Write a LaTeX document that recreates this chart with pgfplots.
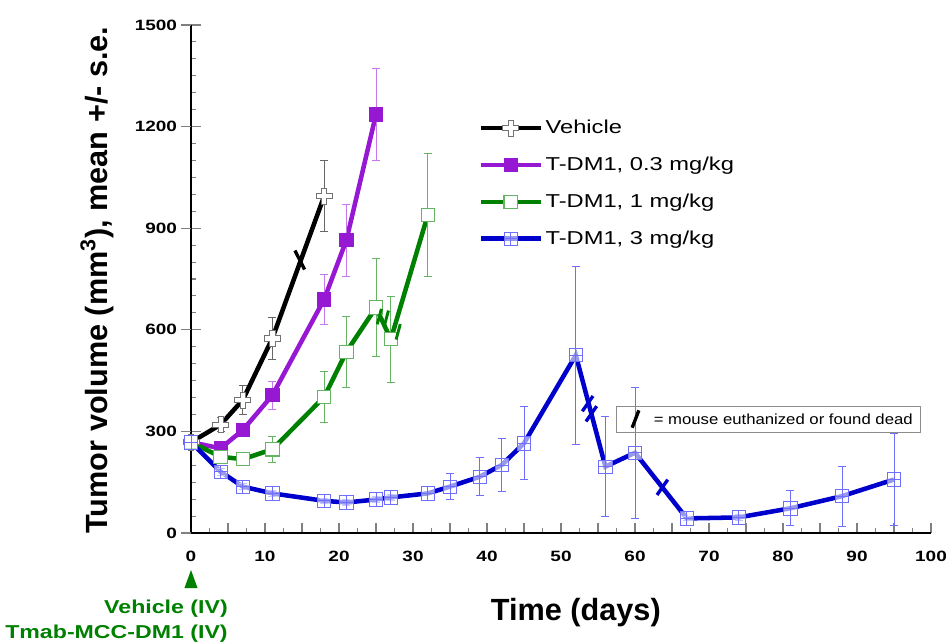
\documentclass[border=0pt]{standalone}
\usepackage{pgfplots}
\pgfplotsset{compat=1.18}
\usepackage{graphicx}
\usepackage{fontspec}
\setmainfont{Liberation Sans}
\definecolor{cpurple}{RGB}{150,24,210}
\definecolor{cpurplel}{RGB}{200,120,235}
\definecolor{cgreen}{RGB}{0,128,0}
\definecolor{cgreenl}{RGB}{100,180,100}
\definecolor{cblue}{RGB}{0,0,205}
\definecolor{cbluel}{RGB}{110,110,255}
\newcommand\sx[1]{\scalebox{1.27}[1]{#1}}
\pgfdeclareplotmark{opencross}{%
  \pgfpathmoveto{\pgfqpoint{-0.33\pgfplotmarksize}{\pgfplotmarksize}}%
  \pgfpathlineto{\pgfqpoint{0.33\pgfplotmarksize}{\pgfplotmarksize}}%
  \pgfpathlineto{\pgfqpoint{0.33\pgfplotmarksize}{0.33\pgfplotmarksize}}%
  \pgfpathlineto{\pgfqpoint{\pgfplotmarksize}{0.33\pgfplotmarksize}}%
  \pgfpathlineto{\pgfqpoint{\pgfplotmarksize}{-0.33\pgfplotmarksize}}%
  \pgfpathlineto{\pgfqpoint{0.33\pgfplotmarksize}{-0.33\pgfplotmarksize}}%
  \pgfpathlineto{\pgfqpoint{0.33\pgfplotmarksize}{-\pgfplotmarksize}}%
  \pgfpathlineto{\pgfqpoint{-0.33\pgfplotmarksize}{-\pgfplotmarksize}}%
  \pgfpathlineto{\pgfqpoint{-0.33\pgfplotmarksize}{-0.33\pgfplotmarksize}}%
  \pgfpathlineto{\pgfqpoint{-\pgfplotmarksize}{-0.33\pgfplotmarksize}}%
  \pgfpathlineto{\pgfqpoint{-\pgfplotmarksize}{0.33\pgfplotmarksize}}%
  \pgfpathlineto{\pgfqpoint{-0.33\pgfplotmarksize}{0.33\pgfplotmarksize}}%
  \pgfpathclose
  \pgfusepathqfillstroke
}
\pgfdeclareplotmark{boxplus}{%
  \pgfpathrectangle{\pgfqpoint{-\pgfplotmarksize}{-\pgfplotmarksize}}{\pgfqpoint{2\pgfplotmarksize}{2\pgfplotmarksize}}%
  \pgfusepathqfillstroke
  \pgfpathmoveto{\pgfqpoint{-\pgfplotmarksize}{0pt}}\pgfpathlineto{\pgfqpoint{\pgfplotmarksize}{0pt}}%
  \pgfpathmoveto{\pgfqpoint{0pt}{-\pgfplotmarksize}}\pgfpathlineto{\pgfqpoint{0pt}{\pgfplotmarksize}}%
  \pgfusepathqstroke
}
\begin{document}
\begin{tikzpicture}
\begin{axis}[
  scale only axis, width=555pt, height=381pt,
  xmin=0, xmax=100, ymin=0, ymax=1500,
  axis lines*=left,
  axis line style={line width=2pt},
  clip=false,
  xtick={0,5,...,100},
  xticklabels={\sx{0},,\sx{10},,\sx{20},,\sx{30},,\sx{40},,\sx{50},,\sx{60},,\sx{70},,\sx{80},,\sx{90},,\sx{100}},
  minor x tick num=1,
  ytick={0,300,...,1500},
  yticklabels={\sx{0},\sx{300},\sx{600},\sx{900},\sx{1200},\sx{1500}},
  minor y tick num=5,
  extra y ticks={0,300,...,1500},
  extra y tick labels={},
  extra y tick style={tick align=outside},
  tick align=inside,
  major tick length=7.5pt, minor tick length=4pt,
  tick style={black!50, line width=0.8pt},
  tick label style={font=\fontsize{11.2}{13}\selectfont\bfseries},
  x tick label style={yshift=-10pt},
  y tick label style={xshift=-7pt},
  ylabel={Tumor volume (mm\textsuperscript{3}), mean +/- s.e.},
  ylabel style={at={(axis description cs:-0.127,0.498)}, anchor=center, font=\fontsize{23}{27}\selectfont\bfseries},
  xlabel={Time (days)},
  xlabel style={at={(axis description cs:0.52,-0.156)}, anchor=center, font=\fontsize{23}{27}\selectfont\bfseries},
  legend style={draw=none, fill=none, at={(axis description cs:0.388,0.818)}, anchor=north west,
     font=\fontsize{14}{16}\selectfont, row sep=12pt, inner sep=0pt},
  legend cell align=left,
  legend image code/.code={\draw[mark repeat=2,mark phase=2,#1] plot coordinates {(0pt,0pt) (22.5pt,0pt) (45pt,0pt)};},
  error bars/y dir=both, error bars/y explicit,
]
% Vehicle
\addplot[black, line width=3.4pt, mark=opencross, mark size=6pt,
  mark options={fill=white, draw=black!55, line width=0.6pt},
  error bars/error bar style={black!60, line width=0.6pt},
  error bars/error mark options={rotate=90, mark size=3pt, black!60, line width=0.6pt}]
  coordinates {(0,268) +- (0,12) (4,320) +- (0,20) (7,393) +- (0,44) (11,575) +- (0,62) (18,995) +- (0,105)};
\addlegendentry{\sx{Vehicle}}
% T-DM1 0.3
\addplot[cpurple, line width=3.4pt, mark=square*, mark size=5pt,
  mark options={fill=cpurple, draw=cpurple, line width=0.6pt},
  error bars/error bar style={cpurplel, line width=0.6pt},
  error bars/error mark options={rotate=90, mark size=3pt, cpurplel, line width=0.6pt}]
  coordinates {(0,268) +- (0,12) (4,250) +- (0,10) (7,304) +- (0,20) (11,407) +- (0,42) (18,690) +- (0,75) (21,865) +- (0,106) (25,1236) +- (0,135)};
\addlegendentry{\sx{T-DM1, 0.3 mg/kg}}
% T-DM1 1
\addplot[cgreen, line width=3.4pt, mark=square*, mark size=5pt,
  mark options={fill=white, draw=cgreenl, line width=0.8pt},
  error bars/error bar style={cgreenl, line width=0.6pt},
  error bars/error mark options={rotate=90, mark size=3pt, cgreenl, line width=0.6pt}]
  coordinates {(0,268) +- (0,12) (4,225) +- (0,10) (7,218) +- (0,15) (11,247) +- (0,38) (18,402) +- (0,75) (21,535) +- (0,104) (25,666) +- (0,145) (27,572) +- (0,127) (32,939) +- (0,182)};
\addlegendentry{\sx{T-DM1, 1 mg/kg}}
% T-DM1 3
\addplot[cblue, line width=3.4pt, mark=boxplus, mark size=5pt,
  mark options={fill=white, fill opacity=0.6, draw=cbluel, line width=0.6pt},
  error bars/error bar style={cbluel, line width=0.6pt},
  error bars/error mark options={rotate=90, mark size=3pt, cbluel, line width=0.6pt}]
  coordinates {(0,268) +- (0,12) (4,181) +- (0,10) (7,137) +- (0,8) (11,117) +- (0,8) (18,95) +- (0,8) (21,90) +- (0,8) (25,99) +- (0,10) (27,105) +- (0,10) (32,117) +- (0,22) (35,137) +- (0,38) (39,166) +- (0,56) (42,201) +- (0,79) (45,265) +- (0,108) (52,525) +- (0,262) (56,196) +- (0,148) (60,237) +- (0,194) (67,43) +- (0,6) (74,46) +- (0,10) (81,73) +- (0,52) (88,109) +- (0,89) (95,158) +- (0,137)};
\addlegendentry{\sx{T-DM1, 3 mg/kg}}
% euthanized marks
\addplot[forget plot, only marks, black, mark=|, mark size=8pt, mark options={line width=2.5pt, rotate=27}, error bars/y dir=none]
  coordinates {(14.7,806)};
\addplot[forget plot, only marks, cgreen, mark=|, mark size=6pt, mark options={line width=2.2pt, rotate=-15}, error bars/y dir=none]
  coordinates {(25.45,639) (26.4,634) (28.0,594)};
\addplot[forget plot, only marks, cblue, mark=|, mark size=7pt, mark options={line width=2.5pt, rotate=-35}, error bars/y dir=none]
  coordinates {(53.6,382) (54.1,352) (63.7,135)};
% annotation box
\node[draw=black!45, line width=0.7pt, minimum width=228pt, minimum height=19.5pt, inner sep=0pt] (box) at (axis cs:77.97,336.6) {};
\coordinate (o) at (axis cs:0,0);
\coordinate (bbsw) at (axis description cs:-0.2581,-0.2165);
\coordinate (bbne) at (axis description cs:1.0216,1.0492);
\end{axis}
\node[anchor=west, font=\fontsize{11}{13}\selectfont, inner sep=0pt] at ([xshift=28.5pt]box.west) {\scalebox{1.14}[1]{= mouse euthanized or found dead}};
\draw[line width=2.5pt] ([xshift=12.5pt,yshift=-6.5pt]box.west) -- ([xshift=17.5pt,yshift=6.5pt]box.west);
\fill[cgreen] ([shift={(-4.9pt,-41.25pt)}]o) -- ([shift={(4.9pt,-41.25pt)}]o) -- ([shift={(0pt,-27.75pt)}]o) -- cycle;
\node[anchor=east, text=cgreen, font=\fontsize{14}{16}\selectfont\bfseries, inner sep=0pt] at ([shift={(27.75pt,-57pt)}]o) {\scalebox{1.24}[1]{Vehicle (IV)}};
\node[anchor=east, text=cgreen, font=\fontsize{14}{16}\selectfont\bfseries, inner sep=0pt] at ([shift={(27.75pt,-75.75pt)}]o) {\scalebox{1.24}[1]{Tmab-MCC-DM1 (IV)}};
\pgfresetboundingbox
\path (bbsw) rectangle (bbne);
\end{tikzpicture}
\end{document}
